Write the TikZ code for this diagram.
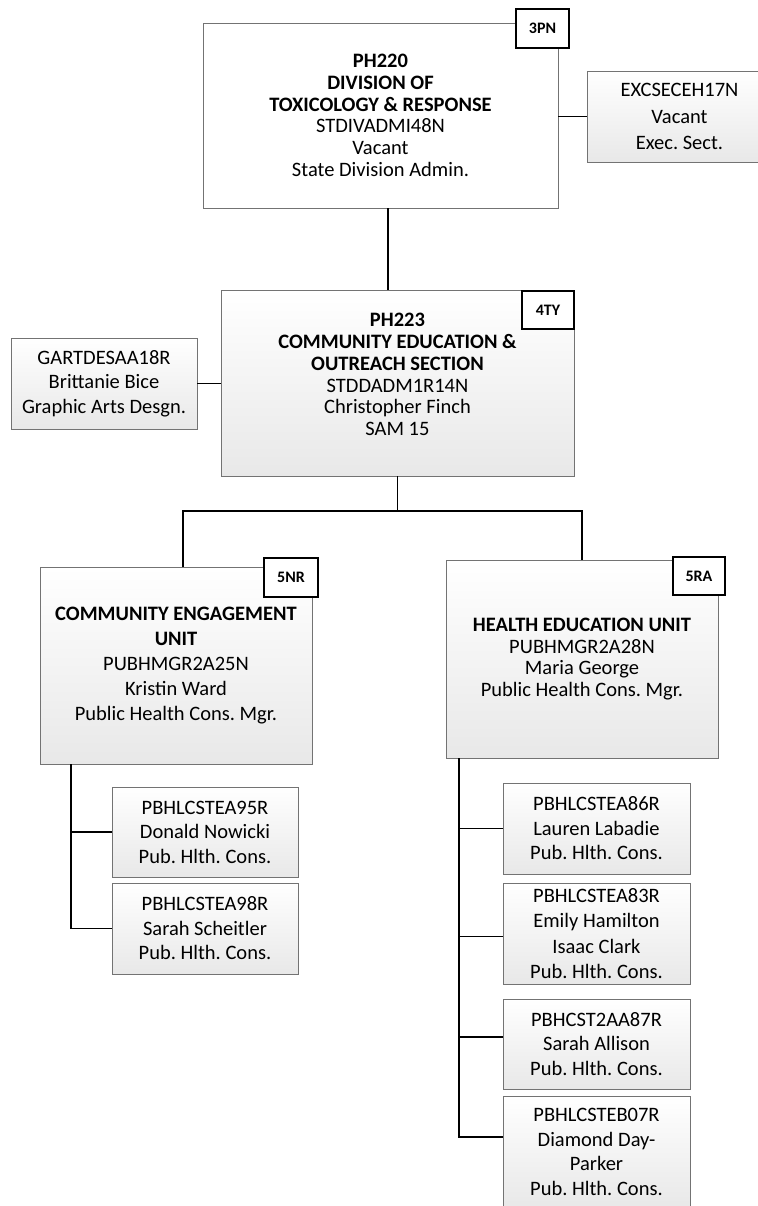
\documentclass[tikz,border=0pt]{standalone}
\usepackage{fontspec}
\setmainfont{Carlito}
\frenchspacing
\usetikzlibrary{positioning,calc}

\definecolor{boxline}{gray}{0.45}
\definecolor{boxshade}{gray}{0.91}

\tikzset{
    orgbox/.style={draw=boxline, line width=0.8pt, top color=white, bottom color=boxshade,
        align=center, inner sep=0pt, font=\fontsize{20.5}{21.7}\selectfont},
    headbox/.style={orgbox, top color=white, bottom color=white},
    staffbox/.style={orgbox, font=\fontsize{20.5}{24.5}\selectfont},
    badge/.style={draw=black, line width=1.3pt, fill=white, inner sep=0pt,
        font=\bfseries\fontsize{16}{18}\selectfont},
    link/.style={draw=black, line width=1.6pt}
}

\begin{document}
\begin{tikzpicture}[x=1pt, y=-1pt]

\useasboundingbox (0,0) rectangle (757,1206);

% ------------------------------------------------------------
% Division and section
% ------------------------------------------------------------

\node[headbox, minimum width=355pt, minimum height=185pt] (ph220) at (380.5,115.5)
    {\textbf{PH220}\\\textbf{DIVISION OF}\\\textbf{TOXICOLOGY \& RESPONSE}\\STDIVADMI48N\\Vacant\\State Division Admin.};
\node[badge, minimum width=53pt, minimum height=39pt] (b3pn) at (542.5,28.5) {3PN};

\node[orgbox, font=\fontsize{20.5}{26.5}\selectfont, minimum width=185pt, minimum height=91pt] (exc) at (679.5,116.5)
    {EXCSECEH17N\\Vacant\\Exec. Sect.};

\node[orgbox, text depth=17pt, minimum width=353pt, minimum height=186pt] (ph223) at (397.5,383)
    {\textbf{PH223}\\\textbf{COMMUNITY EDUCATION \&}\\\textbf{OUTREACH SECTION}\\STDDADM1R14N\\Christopher Finch\\SAM 15};
\node[badge, minimum width=52pt, minimum height=38pt] (b4ty) at (548,310) {4TY};

\node[orgbox, font=\fontsize{20.5}{24.5}\selectfont, minimum width=186pt, minimum height=91pt] (gart) at (104,383.5)
    {GARTDESAA18R\\Brittanie Bice\\Graphic Arts Desgn.};

% ------------------------------------------------------------
% Units
% ------------------------------------------------------------

\node[orgbox, font=\fontsize{20.5}{25}\selectfont, minimum width=272pt, minimum height=197pt] (ceu) at (176,665.5)
    {\textbf{COMMUNITY ENGAGEMENT}\\\textbf{UNIT}\\PUBHMGR2A25N\\Kristin Ward\\Public Health Cons. Mgr.};
\node[badge, minimum width=54pt, minimum height=39pt] (b5nr) at (291,577.5) {5NR};

\node[orgbox, minimum width=272pt, minimum height=198pt] (heu) at (582,659)
    {\textbf{HEALTH EDUCATION UNIT}\\PUBHMGR2A28N\\Maria George\\Public Health Cons. Mgr.};
\node[badge, minimum width=52pt, minimum height=38pt] (b5ra) at (699,576) {5RA};

% ------------------------------------------------------------
% Staff
% ------------------------------------------------------------

\node[staffbox, minimum width=186pt, minimum height=90pt] (donald) at (205,832)
    {PBHLCSTEA95R\\Donald Nowicki\\Pub. Hlth. Cons.};
\node[staffbox, minimum width=186pt, minimum height=91pt] (sarahs) at (205,928.5)
    {PBHLCSTEA98R\\Sarah Scheitler\\Pub. Hlth. Cons.};

\node[staffbox, minimum width=187pt, minimum height=91pt] (lauren) at (596.5,828.5)
    {PBHLCSTEA86R\\Lauren Labadie\\Pub. Hlth. Cons.};
\node[staffbox, font=\fontsize{20.5}{25.5}\selectfont, minimum width=187pt, minimum height=101pt] (emily) at (596.5,933.5)
    {PBHLCSTEA83R\\Emily Hamilton\\Isaac Clark\\Pub. Hlth. Cons.};
\node[staffbox, minimum width=187pt, minimum height=90pt] (saraha) at (596.5,1044)
    {PBHCST2AA87R\\Sarah Allison\\Pub. Hlth. Cons.};
\node[staffbox, minimum width=187pt, minimum height=112pt] (diamond) at (596.5,1152)
    {PBHLCSTEB07R\\Diamond Day-\\Parker\\Pub. Hlth. Cons.};

% ------------------------------------------------------------
% Reporting lines
% ------------------------------------------------------------

\coordinate (bus) at (397.5,511);
\coordinate (cetrunk) at (71,764);
\coordinate (hetrunk) at (459,758);

\draw[link] (ph220.east |- exc.west) -- (exc.west);
\draw[link] ([xshift=7.5pt]ph220.south) -- ([xshift=7.5pt]ph220.south |- ph223.north);
\draw[link] (gart.east) -- (gart.east -| ph223.west);
\draw[link] (ph223.south) -- (bus);
\draw[link] ([xshift=7pt]ceu.north) |- (bus) -| (heu.north);

\draw[link] (cetrunk) |- (donald.west);
\draw[link] (cetrunk) |- (sarahs.west);

\draw[link] (hetrunk) |- (lauren.west);
\draw[link] (hetrunk) |- ([yshift=-3pt]emily.west);
\draw[link] (hetrunk) |- ([yshift=7pt]saraha.west);
\draw[link] (hetrunk) |- ([yshift=15pt]diamond.west);

\end{tikzpicture}
\end{document}
